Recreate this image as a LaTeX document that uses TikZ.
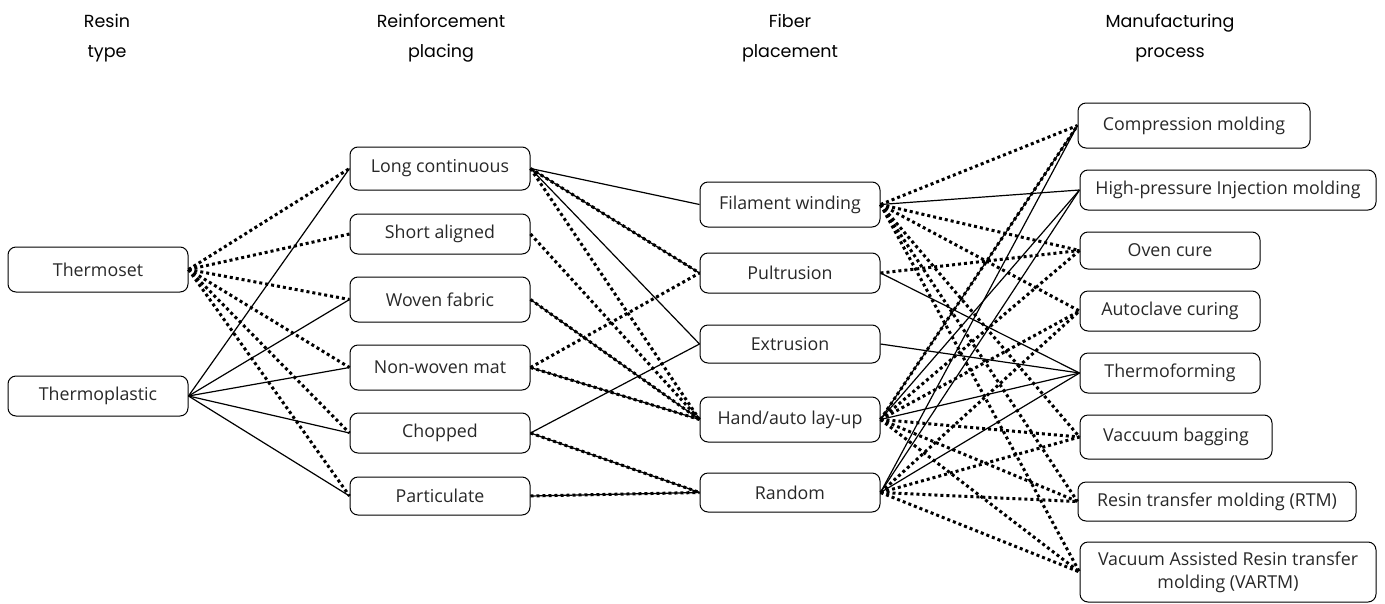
\documentclass[tikz,border=0pt]{standalone}
\usepackage{fontspec}
\setmainfont{Open Sans}
\newfontfamily\headfont{Poppins}
\definecolor{txt}{RGB}{40,40,40}
\begin{document}
\begin{tikzpicture}[x=1pt,y=-1pt,
  box/.style={draw, line width=1pt, rounded corners=8pt, fill=white, align=center,
    inner sep=0pt, text=txt, font=\fontsize{17.8}{23}\selectfont},
  hdr/.style={align=center, text=black, font=\headfont\fontsize{17.5}{30}\selectfont},
  soll/.style={line width=1.2pt},
  dotl/.style={line width=3pt, dash pattern=on 3pt off 3pt}]
\useasboundingbox (0,0) rectangle (1385,603);

% headers
\node[hdr] (h1) at (107,38) {Resin\\type};
\node[hdr] (h2) at (441,38) {Reinforcement\\placing};
\node[hdr] (h3) at (790,38) {Fiber\\placement};
\node[hdr] (h4) at (1170,38) {Manufacturing\\process};

% column 1
\node[box, minimum width=180pt, minimum height=45pt] (ts) at (98,269.5) {Thermoset};
\node[box, minimum width=180pt, minimum height=40pt] (tp) at (98,396) {Thermoplastic};

% column 2
\node[box, minimum width=180pt, minimum height=43pt] (lc) at (440,168.5) {Long continuous};
\node[box, minimum width=180pt, minimum height=40pt] (sa) at (440,234) {Short aligned};
\node[box, minimum width=180pt, minimum height=45pt] (wf) at (440,299.5) {Woven fabric};
\node[box, minimum width=180pt, minimum height=45pt] (nw) at (440,367.5) {Non-woven mat};
\node[box, minimum width=180pt, minimum height=40pt] (ch) at (440,433) {Chopped};
\node[box, minimum width=180pt, minimum height=38pt] (pa) at (440,496) {Particulate};

% column 3
\node[box, minimum width=180pt, minimum height=45pt] (fw) at (790,204.5) {Filament winding};
\node[box, minimum width=180pt, minimum height=40pt] (pu) at (790,273) {Pultrusion};
\node[box, minimum width=180pt, minimum height=38pt] (ex) at (790,344) {Extrusion};
\node[box, minimum width=180pt, minimum height=45pt] (hl) at (790,419.5) {Hand/auto lay-up};
\node[box, minimum width=180pt, minimum height=39pt] (ra) at (790,492.5) {Random};

% column 4
\node[box, minimum width=232pt, minimum height=45pt] (cm) at (1194,125.5) {Compression molding};
\node[box, minimum width=296pt, minimum height=40pt] (hp) at (1228,190) {High-pressure Injection molding};
\node[box, minimum width=180pt, minimum height=37pt] (ov) at (1170,250.5) {Oven cure};
\node[box, minimum width=180pt, minimum height=40pt] (au) at (1170,311) {Autoclave curing};
\node[box, minimum width=180pt, minimum height=40pt] (tf) at (1170,373) {Thermoforming};
\node[box, minimum width=192pt, minimum height=44pt] (vb) at (1176,437) {Vaccuum bagging};
\node[box, minimum width=278pt, minimum height=39pt] (rt) at (1217,501.5) {Resin transfer molding (RTM)};
\node[box, minimum width=296pt, minimum height=60pt] (va) at (1228,572) {Vacuum Assisted Resin transfer\\molding (VARTM)};

% resin -> reinforcement
\foreach \t in {lc,sa,wf,nw,ch,pa} \draw[dotl] (ts.east) -- (\t.west);
\foreach \t in {lc,wf,nw,ch,pa} \draw[soll] (tp.east) -- (\t.west);

% reinforcement -> fiber placement
\draw[soll] (lc.east) -- (fw.west);
\draw[soll] (lc.east) -- (pu.west);
\draw[dotl] (lc.east) -- (pu.west);
\draw[soll] (lc.east) -- (ex.west);
\draw[dotl] (lc.east) -- (hl.west);
\draw[dotl] (sa.east) -- (hl.west);
\draw[soll] (wf.east) -- (hl.west);
\draw[dotl] (wf.east) -- (hl.west);
\draw[dotl] (nw.east) -- (pu.west);
\draw[soll] (nw.east) -- (hl.west);
\draw[dotl] (nw.east) -- (hl.west);
\draw[soll] (ch.east) -- (ex.west);
\draw[soll] (ch.east) -- (ra.west);
\draw[dotl] (ch.east) -- (ra.west);
\draw[soll] (pa.east) -- (ra.west);
\draw[dotl] (pa.east) -- (ra.west);

% fiber placement -> manufacturing
\foreach \t in {cm,ov,au,vb,rt,va} \draw[dotl] (fw.east) -- (\t.west);
\draw[soll] (fw.east) -- (hp.west);
\draw[dotl] (pu.east) -- (ov.west);
\draw[soll] (pu.east) -- (tf.west);
\draw[soll] (ex.east) -- (tf.west);
\foreach \t in {cm,hp,tf} \draw[soll] (hl.east) -- (\t.west);
\foreach \t in {cm,ov,au,vb,rt,va} \draw[dotl] (hl.east) -- (\t.west);
\foreach \t in {cm,hp,tf} \draw[soll] (ra.east) -- (\t.west);
\foreach \t in {au,vb,rt,va} \draw[dotl] (ra.east) -- (\t.west);
\end{tikzpicture}
\end{document}
